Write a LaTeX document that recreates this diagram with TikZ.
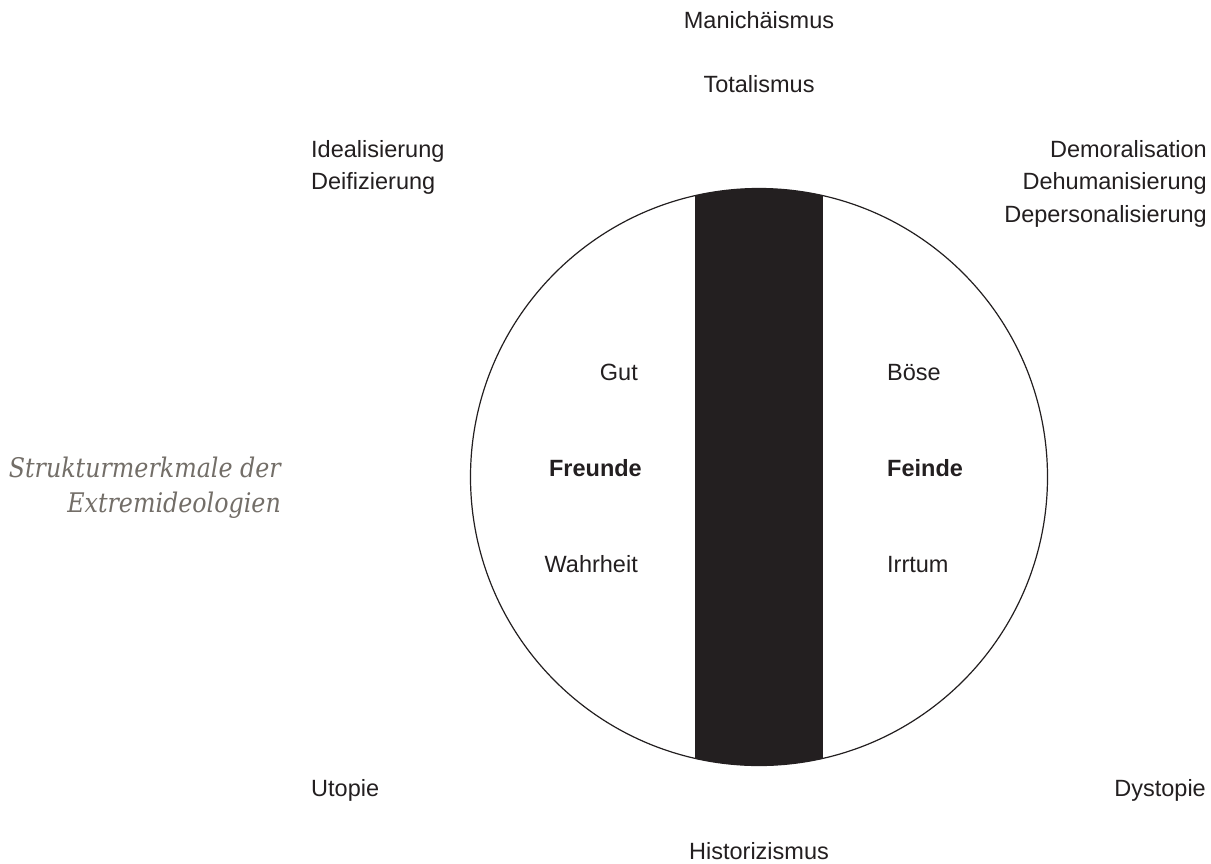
\documentclass[tikz,border=0pt]{standalone}
\usepackage{fontspec}
\setmainfont{Liberation Sans}
\newfontfamily\capfont[FakeStretch=0.88]{DejaVu Serif}
\definecolor{ink}{HTML}{231F20}
\definecolor{greytxt}{HTML}{736E68}
\begin{document}
\begin{tikzpicture}[x=1pt,y=-1pt,
  lbl/.style={inner sep=0pt, font=\fontsize{23.5}{28}\selectfont, text=ink},
  bld/.style={lbl, font=\fontsize{23.5}{28}\selectfont\bfseries},
  captxt/.style={inner sep=0pt, font=\capfont\itshape\fontsize{27}{32}\selectfont, text=greytxt}]
\useasboundingbox (0,0) rectangle (1211,863);
\fill[white] (0,0) rectangle (1211,863);
\begin{scope}
  \clip (759,477) circle (288.5pt);
  \fill[ink] (695,150) rectangle (823,800);
\end{scope}
\node[circle, draw=ink, line width=1.2pt, minimum size=577pt, inner sep=0pt] (circ) at (759,477) {};
\node[lbl, anchor=base] (mani) at (759,28.5) {Manichäismus};
\node[lbl, anchor=base] (tota) at (759,92) {Totalismus};
\node[lbl, anchor=base west] (ideal) at (311,157) {Idealisierung};
\node[lbl, anchor=base west] (deif) at (311,189.5) {Deifizierung};
\node[lbl, anchor=base east] (demo) at (1207,157) {Demoralisation};
\node[lbl, anchor=base east] (dehu) at (1207,189.5) {Dehumanisierung};
\node[lbl, anchor=base east] (depe) at (1207,222) {Depersonalisierung};
\node[lbl, anchor=base east] (gut) at (638,380) {Gut};
\node[bld, anchor=base east] (freu) at (642,476) {Freunde};
\node[lbl, anchor=base east] (wahr) at (638,572) {Wahrheit};
\node[lbl, anchor=base west] (boese) at (887,380) {Böse};
\node[bld, anchor=base west] (fein) at (887,476) {Feinde};
\node[lbl, anchor=base west] (irr) at (887,572) {Irrtum};
\node[lbl, anchor=base west] (uto) at (311,796.5) {Utopie};
\node[lbl, anchor=base east] (dys) at (1206,796.5) {Dystopie};
\node[lbl, anchor=base] (hist) at (759,859) {Historizismus};
\node[captxt, anchor=base east] (cap1) at (281,477) {Strukturmerkmale der};
\node[captxt, anchor=base east] (cap2) at (281,512) {Extremideologien};
\end{tikzpicture}
\end{document}
